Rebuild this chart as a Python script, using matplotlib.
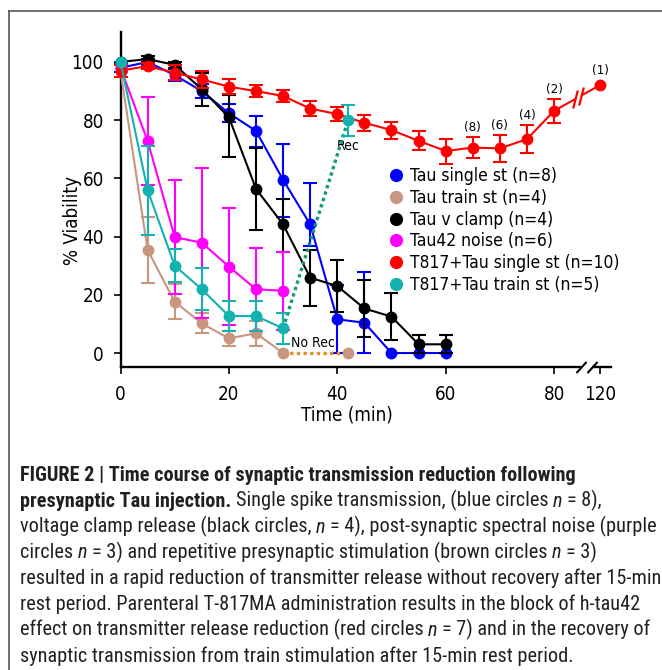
import os
import numpy as np
import matplotlib
matplotlib.use("Agg")
import matplotlib.pyplot as plt
import matplotlib.font_manager as fm
from matplotlib.font_manager import FontProperties
from matplotlib.lines import Line2D

# ---------------- data ----------------
t13 = [0, 5, 10, 15, 20, 25, 30, 35, 40, 45, 50, 55, 60]
t7 = [0, 5, 10, 15, 20, 25, 30]

blue_y = [98, 100, 95.5, 90, 82.4, 76.3, 59.5, 44.2, 11.6, 10.4, 0, 0, 0]
blue_lo = [1.5, 1, 2, 2.5, 3, 5.5, 12.8, 7.3, 11.6, 10.4, np.nan, np.nan, np.nan]
blue_hi = [1.5, 1, 2, 2.5, 3, 5, 12.3, 14.1, 11.8, 17.6, np.nan, np.nan, np.nan]

black_y = [100, 101, 99, 90.6, 81, 56.4, 44.2, 25.9, 23, 15.3, 12.5, 3, 3]
black_lo = [np.nan, 1, 1, 5.6, 13.6, 14, 9.4, 9.8, 9, 9.7, 8, 3, 3]
black_hi = [np.nan, 1, 1, 5.6, 7.7, 14, 8.6, 9.5, 9, 9.7, 8, 3.2, 3.2]

mag_y = [98, 72.9, 39.8, 37.9, 29.7, 21.9, 21.4]
mag_err = [np.nan, 15, 19.5, 25.7, 20, 14.3, 13.4]

cyan_y = [100, 56, 30, 21.9, 12.7, 12.7, 8.5]
cyan_err = [np.nan, 15.3, 5.6, 7.2, 5.2, 5.2, 5.3]
rec_t, rec_y, rec_err = 42, 80, 5.3

brown_y = [97, 35.4, 17.6, 10.2, 5, 6.8, 0]
brown_err = [np.nan, 11.3, 6, 3.4, 2.7, 4.3, np.nan]
norec_t, norec_y = 42, 0

red_t = [0, 5, 10, 15, 20, 25, 30, 35, 40, 45, 50, 55, 60, 65, 70, 75, 80, 120]
red_y = [97, 98.6, 96.3, 94, 91.5, 90, 88.3, 84, 82.1, 79.1, 76.6, 72.9, 69.4,
         70.6, 70.3, 73.5, 83.2, 92.1]
red_err = [2, 1, 2.5, 3, 2.5, 2, 2, 2.5, 2.5, 2.7, 2.9, 3.3, 4.3, 3.7, 4.5, 4.9,
           4, np.nan]
red_n_t = [65, 70, 75, 80, 120]
red_n_lab = ["(8)", "(6)", "(4)", "(2)", "(1)"]

labels = ["Tau single st (n=8)", "Tau train st (n=4)", "Tau v clamp (n=4)",
          "Tau42 noise (n=6)", "T817+Tau single st (n=10)", "T817+Tau train st (n=5)"]
colors = ["#0000FF", "#C8967E", "#000000", "#FF00FF", "#FF0000", "#12B2AE"]
rec_color = "#13977D"
norec_color = "#E5931E"

xticks = [0, 20, 40, 60, 80, 120]
yticks = [0, 20, 40, 60, 80, 100]

caption = [
    [("FIGURE 2 | Time course of synaptic transmission reduction following", "b")],
    [("presynaptic Tau injection.", "b"), (" Single spike transmission, (blue circles ", "r"),
     ("n", "i"), (" = 8),", "r")],
    [("voltage clamp release (black circles, ", "r"), ("n", "i"),
     (" = 4), post-synaptic spectral noise (purple", "r")],
    [("circles ", "r"), ("n", "i"), (" = 3) and repetitive presynaptic stimulation (brown circles ", "r"),
     ("n", "i"), (" = 3)", "r")],
    [("resulted in a rapid reduction of transmitter release without recovery after 15-min", "r")],
    [("rest period. Parenteral T-817MA administration results in the block of h-tau42", "r")],
    [("effect on transmitter release reduction (red circles ", "r"), ("n", "i"),
     (" = 7) and in the recovery of", "r")],
    [("synaptic transmission from train stimulation after 15-min rest period.", "r")],
]

# ---------------- fonts ----------------
def find_file(keys):
    files = [f.fname for f in fm.fontManager.ttflist]
    for k in keys:
        for fn in files:
            if k in os.path.basename(fn).lower():
                return fn
    return None

cap_reg = find_file(["liberationsansnarrow-regular", "robotocondensed-regular",
                     "dejavusanscondensed.ttf"])
cap_bold = find_file(["liberationsansnarrow-bold.", "robotocondensed-bold.",
                      "dejavusanscondensed-bold."])
cap_it = find_file(["liberationsansnarrow-italic", "robotocondensed-italic",
                    "dejavusanscondensed-oblique."])
chart_file = find_file(["dejavusanscondensed.ttf"])

def capfp(style, size):
    fn = {"r": cap_reg, "b": cap_bold, "i": cap_it}[style]
    if fn:
        return FontProperties(fname=fn, size=size)
    return FontProperties(family="Liberation Sans", size=size,
                          weight="bold" if style == "b" else "normal",
                          style="italic" if style == "i" else "normal")

def chartfp(size):
    if chart_file:
        return FontProperties(fname=chart_file, size=size)
    return FontProperties(family="DejaVu Sans", size=size)

# ---------------- figure ----------------
W, H = 662, 670
fig = plt.figure(figsize=(W / 100, H / 100), dpi=100)
ax = fig.add_axes([120.5 / W, (H - 367) / H, 490.5 / W, 335 / H])

BRK = 8.5 / 40.0
def fwd(x):
    x = np.asarray(x, float)
    return np.where(x <= 80, x, 80 + (x - 80) * BRK)
def inv(x):
    x = np.asarray(x, float)
    return np.where(x <= 80, x, 80 + (x - 80) / BRK)

ax.set_xscale("function", functions=(fwd, inv))
ax.set_xlim(0, float(inv(90.5)))
ax.set_ylim(-4.8, 110.3)

for s in ["top", "right"]:
    ax.spines[s].set_visible(False)
for s in ["left", "bottom"]:
    ax.spines[s].set_linewidth(1.7)

ax.set_xticks(xticks)
ax.set_xticklabels([str(v) for v in xticks])
ax.set_yticks(yticks)
ax.set_yticklabels([str(v) for v in yticks])
ax.tick_params(axis="both", length=5, width=1.2, direction="out")
ax.tick_params(axis="x", pad=8)
ax.tick_params(axis="y", pad=7)
for lab in ax.get_xticklabels() + ax.get_yticklabels():
    lab.set_fontproperties(chartfp(13.5))

ekw = dict(fmt="-o", ms=7.5, lw=1.5, elinewidth=1.5, capsize=5, capthick=1.5)

def eb(t, y, lo, hi, color, z):
    c = ax.errorbar(t, y, yerr=[lo, hi], color=color, zorder=z, **ekw)
    for a in c.get_children():
        a.set_clip_on(False)
    return c

eb(t13, blue_y, blue_lo, blue_hi, colors[0], 3.0)
# brown + no recovery
ax.plot([t7[-1], norec_t], [brown_y[-1], norec_y], color=norec_color,
        ls=(0, (1, 1)), lw=2.4, zorder=3.05)
eb(t7, brown_y, brown_err, brown_err, colors[1], 3.1)
ax.plot([norec_t], [norec_y], "o", color=colors[1], ms=7.5, zorder=3.1, clip_on=False)
eb(t13, black_y, black_lo, black_hi, colors[2], 3.2)
eb(t7, mag_y, mag_err, mag_err, colors[3], 3.3)
eb(red_t, red_y, red_err, red_err, colors[4], 3.4)
# cyan + recovery
ax.plot([t7[-1], rec_t], [cyan_y[-1], rec_y], color=rec_color,
        ls=(0, (1, 1)), lw=2.4, zorder=3.45)
eb(t7, cyan_y, cyan_err, cyan_err, colors[5], 3.5)
eb([rec_t], [rec_y], [rec_err], [rec_err], colors[5], 3.5)

ax.text(rec_t, rec_y - rec_err - 1.0, "Rec", ha="center", va="top",
        fontproperties=chartfp(10))
ax.text(t7[-1] + 1.5, norec_y + 1.2, "No Rec", ha="left", va="bottom",
        fontproperties=chartfp(10))

for tt, lab in zip(red_n_t, red_n_lab):
    i = red_t.index(tt)
    e = red_err[i] if np.isfinite(red_err[i]) else 1.5
    ax.text(tt, red_y[i] + e + 1.1, lab, ha="center", va="bottom",
            fontproperties=chartfp(9.5))

# break on the red line
bx = np.array([98.2, 103.5])
by = np.interp(bx, red_t, red_y)
ax.plot(bx, by, color="white", lw=3.0, zorder=3.6, solid_capstyle="butt")
ax.plot(bx, by, ls="none", marker=[(-0.26, -1), (0.26, 1)], ms=13, mec=colors[4],
        mew=1.6, zorder=3.7)

# break on the x axis
ax_bx = [103.5, 112.5]
ax.plot(ax_bx, [-4.8, -4.8], color="white", lw=3.0, zorder=3, clip_on=False,
        solid_capstyle="butt")
ax.plot(ax_bx, [-4.8, -4.8], ls="none", marker=[(-1, -1.1), (1, 1.1)], ms=8,
        mec="black", mew=1.5, zorder=4, clip_on=False)

# legend
handles = [Line2D([], [], ls="none", marker="o", ms=8.5, color=c) for c in colors]
leg = ax.legend(handles, labels, loc="upper left",
                bbox_to_anchor=(388 / W, 1 - 167 / H), bbox_transform=fig.transFigure,
                frameon=False, borderpad=0, borderaxespad=0, handlelength=0.9,
                handletextpad=0.35, labelspacing=0.22, prop=chartfp(12.5))
leg.set_zorder(5)

# axis labels
fig.text(347 / W, 1 - 415 / H, "Time (min)", ha="center", va="center",
         fontproperties=chartfp(13.5))
fig.text(72 / W, 1 - 220 / H, "% Viability", ha="center", va="center",
         rotation=90, fontproperties=chartfp(13.5))

# frame
fig.add_artist(Line2D([9 / W, 9 / W], [0, 1 - 11 / H], transform=fig.transFigure,
                      color="#555555", lw=1.2))
fig.add_artist(Line2D([9 / W, 1], [1 - 11 / H, 1 - 11 / H], transform=fig.transFigure,
                      color="#555555", lw=1.2))

# caption
renderer = fig.canvas.get_renderer()
def text_w(s, fp):
    t = fig.text(0, 0, s, fontproperties=fp)
    w = t.get_window_extent(renderer).width
    t.remove()
    return w

target = 633.0
probe = caption[4][0][0]
size = 10.0 * target / text_w(probe, capfp("r", 10.0))

x0 = 20.0
base0 = 481.0
dy = 25.8
for li, segs in enumerate(caption):
    x = x0
    y = base0 + li * dy
    for s, st in segs:
        fp = capfp(st, size)
        sp = text_w("a a", fp) - text_w("aa", fp)
        lead = len(s) - len(s.lstrip(" "))
        trail = len(s) - len(s.rstrip(" "))
        core = s.strip(" ")
        x += lead * sp
        fig.text(x / W, 1 - y / H, core, fontproperties=fp, ha="left", va="baseline",
                 color="#231F20")
        x += text_w(core, fp) + trail * sp

fig.savefig("out.png", dpi=100)
